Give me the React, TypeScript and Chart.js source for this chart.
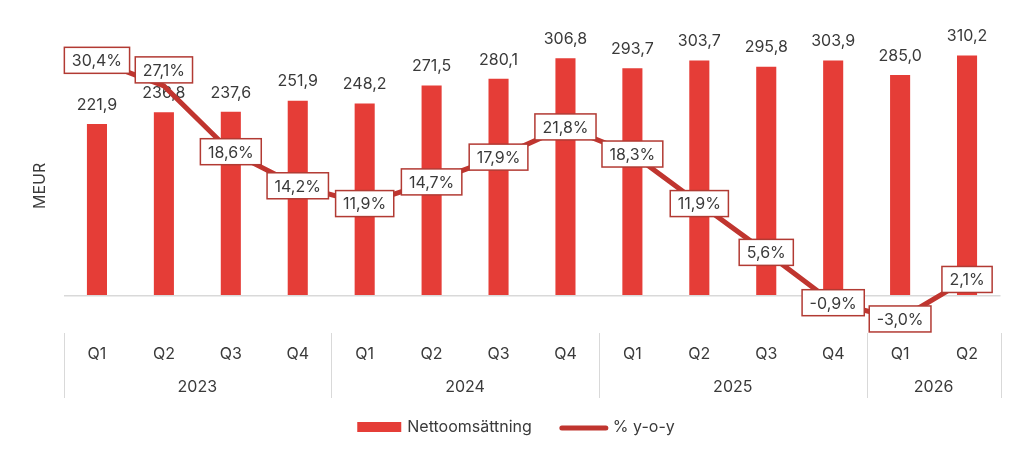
import React, { useEffect, useRef } from "react";
import { Chart, registerables } from "chart.js";

Chart.register(...registerables);

// Quarterly categories and their year groups
const quarters = ["Q1", "Q2", "Q3", "Q4", "Q1", "Q2", "Q3", "Q4", "Q1", "Q2", "Q3", "Q4", "Q1", "Q2"];
const years = ["2023", "2024", "2025", "2026"];
const yearSpans = [4, 4, 4, 2];

// Net sales (MEUR) and year-over-year growth (%)
const netSales = [221.9, 236.8, 237.6, 251.9, 248.2, 271.5, 280.1, 306.8, 293.7, 303.7, 295.8, 303.9, 285.0, 310.2];
const yoyGrowth = [30.4, 27.1, 18.6, 14.2, 11.9, 14.7, 17.9, 21.8, 18.3, 11.9, 5.6, -0.9, -3.0, 2.1];

const seriesNames = ["Nettoomsättning", "% y-o-y"];

const BAR_RED = "#e53d37";
const LINE_RED = "#c0352f";
const BOX_RED = "#b23a33";
const TEXT = "#3a3a3a";
const GRID = "#d9d9d9";
const FONT = "Inter, 'Noto Sans', sans-serif";

const fmt = (v: number) => v.toFixed(1).replace(".", ",");

const decorPlugin = {
  id: "decor",
  afterDatasetDraw(chart: any, args: any) {
    if (args.index !== 0) return;
    const ctx = chart.ctx;
    ctx.save();
    ctx.font = `16px ${FONT}`;
    ctx.fillStyle = TEXT;
    ctx.textAlign = "center";
    ctx.textBaseline = "middle";
    args.meta.data.forEach((bar: any, i: number) => {
      ctx.fillText(fmt(netSales[i]), bar.x, bar.y - 19);
    });
    ctx.restore();
  },
  afterDatasetsDraw(chart: any) {
    const ctx = chart.ctx;
    const meta = chart.getDatasetMeta(1);
    ctx.save();
    ctx.font = `16px ${FONT}`;
    ctx.textAlign = "center";
    ctx.textBaseline = "middle";
    meta.data.forEach((pt: any, i: number) => {
      const text = fmt(yoyGrowth[i]) + "%";
      const w = ctx.measureText(text).width + 15;
      const h = 26;
      // the second label sits above its point so it clears the bar label
      const cy = pt.y - (i === 1 ? 16 : 0);
      ctx.fillStyle = "#ffffff";
      ctx.fillRect(pt.x - w / 2, cy - h / 2, w, h);
      ctx.strokeStyle = BOX_RED;
      ctx.lineWidth = 1.5;
      ctx.strokeRect(pt.x - w / 2, cy - h / 2, w, h);
      ctx.fillStyle = TEXT;
      ctx.fillText(text, pt.x, cy + 1);
    });
    ctx.restore();
  },
  afterDraw(chart: any) {
    const ctx = chart.ctx;
    const x = chart.scales.x;
    const area = chart.chartArea;
    const step = x.getPixelForValue(1) - x.getPixelForValue(0);
    ctx.save();

    // year group separators and labels
    ctx.strokeStyle = GRID;
    ctx.lineWidth = 1;
    ctx.font = `16px ${FONT}`;
    ctx.fillStyle = TEXT;
    ctx.textAlign = "center";
    ctx.textBaseline = "middle";
    let start = 0;
    const edges: number[] = [x.getPixelForValue(0) - step / 2];
    years.forEach((yr, g) => {
      const end = start + yearSpans[g] - 1;
      const left = x.getPixelForValue(start) - step / 2;
      const right = x.getPixelForValue(end) + step / 2;
      edges.push(right);
      ctx.fillText(yr, (left + right) / 2, 387);
      start = end + 1;
    });
    edges.forEach((ex) => {
      const px = Math.round(ex) + 0.5;
      ctx.beginPath();
      ctx.moveTo(px, 333);
      ctx.lineTo(px, 398);
      ctx.stroke();
    });

    // axis title
    ctx.save();
    ctx.translate(40, (area.top + area.bottom) / 2 + 4);
    ctx.rotate(-Math.PI / 2);
    ctx.fillText("MEUR", 0, 0);
    ctx.restore();

    // legend
    ctx.font = `16px ${FONT}`;
    ctx.textAlign = "left";
    const t1 = ctx.measureText(seriesNames[0]).width;
    const t2 = ctx.measureText(seriesNames[1]).width;
    const total = 44 + 6 + t1 + 28 + 48 + 5 + t2;
    let lx = 516 - total / 2;
    const ly = 427;
    ctx.fillStyle = BAR_RED;
    ctx.fillRect(lx, ly - 5, 44, 10);
    lx += 50;
    ctx.fillStyle = TEXT;
    ctx.fillText(seriesNames[0], lx, ly);
    lx += t1 + 28;
    ctx.strokeStyle = LINE_RED;
    ctx.lineWidth = 5;
    ctx.lineCap = "round";
    ctx.beginPath();
    ctx.moveTo(lx + 2, ly + 1);
    ctx.lineTo(lx + 46, ly + 1);
    ctx.stroke();
    lx += 53;
    ctx.fillText(seriesNames[1], lx, ly);

    ctx.restore();
  },
};

export default function App() {
  const canvasRef = useRef<HTMLCanvasElement | null>(null);

  useEffect(() => {
    if (!canvasRef.current) return;
    const chart = new Chart(canvasRef.current, {
      type: "bar",
      data: {
        labels: quarters,
        datasets: [
          {
            type: "bar",
            label: seriesNames[0],
            data: netSales,
            backgroundColor: BAR_RED,
            categoryPercentage: 1,
            barPercentage: 0.3,
            yAxisID: "y",
            order: 1,
          },
          {
            type: "line",
            label: seriesNames[1],
            data: yoyGrowth,
            borderColor: LINE_RED,
            borderWidth: 5,
            pointRadius: 0,
            tension: 0,
            yAxisID: "y1",
            order: 0,
          } as any,
        ],
      },
      options: {
        responsive: false,
        animation: false,
        devicePixelRatio: 1,
        layout: { padding: { left: 63.5, right: 23.5, top: 34, bottom: 80 } },
        plugins: {
          legend: { display: false },
          tooltip: { enabled: false },
        },
        scales: {
          x: {
            grid: { display: false, drawTicks: false },
            border: { display: false },
            ticks: {
              padding: 15,
              color: TEXT,
              font: { family: FONT, size: 16 },
            },
          },
          y: {
            min: -44,
            max: 338,
            ticks: { display: false, stepSize: 50 },
            grid: {
              drawTicks: false,
              color: (c: any) => (c.tick && c.tick.value === 0 ? GRID : "rgba(0,0,0,0)"),
              lineWidth: 1.5,
            },
            border: { display: false },
          },
          y1: {
            display: false,
            min: -4.4,
            max: 33.8,
          },
        },
      },
      plugins: [decorPlugin],
    });
    return () => chart.destroy();
  }, []);

  return (
    <div style={{ position: "fixed", left: 0, top: 0, width: 1024, height: 459, background: "#fff" }}>
      <canvas ref={canvasRef} width={1024} height={459} style={{ display: "block" }} />
    </div>
  );
}
